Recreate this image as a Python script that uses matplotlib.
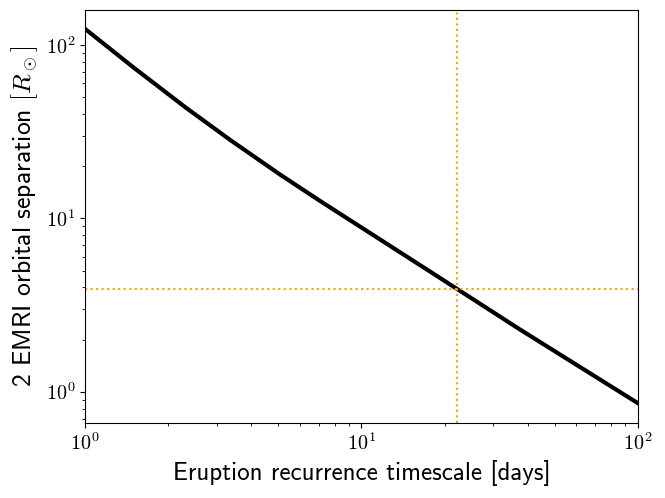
import numpy as np
import matplotlib
matplotlib.use('Agg')
import matplotlib.pyplot as plt
from matplotlib.ticker import FuncFormatter, NullFormatter

# values (log-log)
timescale = [1.0, 1.5, 2.3, 3.35, 5.07, 7.08, 10.7, 16.3, 22.1, 37.4, 60.0, 100.0]
separation = [123.6, 73.9, 43.8, 28.3, 17.9, 12.6, 8.26, 5.37, 3.93, 2.29, 1.43, 0.86]
t_mark = 22.1
a_mark = 3.92

plt.rcParams['mathtext.fontset'] = 'cm'
plt.rcParams['font.family'] = 'cmss10'
plt.rcParams['axes.unicode_minus'] = False

fig = plt.figure(figsize=(6.65, 4.98), dpi=100)
ax = fig.add_axes([0.128, 0.151, 0.831, 0.829])
ax.plot(timescale, separation, color='black', lw=3, solid_joinstyle='round')
ax.axvline(t_mark, color='orange', ls=':', lw=1.5)
ax.axhline(a_mark, color='orange', ls=':', lw=1.5)
ax.set_xscale('log')
ax.set_yscale('log')
ax.set_xlim(1, 100)
ax.set_ylim(0.662, 159)

powfmt = FuncFormatter(lambda v, pos: r'$10^{%d}$' % round(np.log10(v)))
for axis in (ax.xaxis, ax.yaxis):
    axis.set_major_formatter(powfmt)
    axis.set_minor_formatter(NullFormatter())
ax.tick_params(labelsize=14.5)
ax.set_xlabel('Eruption recurrence timescale [days]', fontsize=18)
ax.set_ylabel(r'2 EMRI orbital separation $[R_\odot]$', fontsize=18.5)
fig.savefig('out.png', dpi=100)
